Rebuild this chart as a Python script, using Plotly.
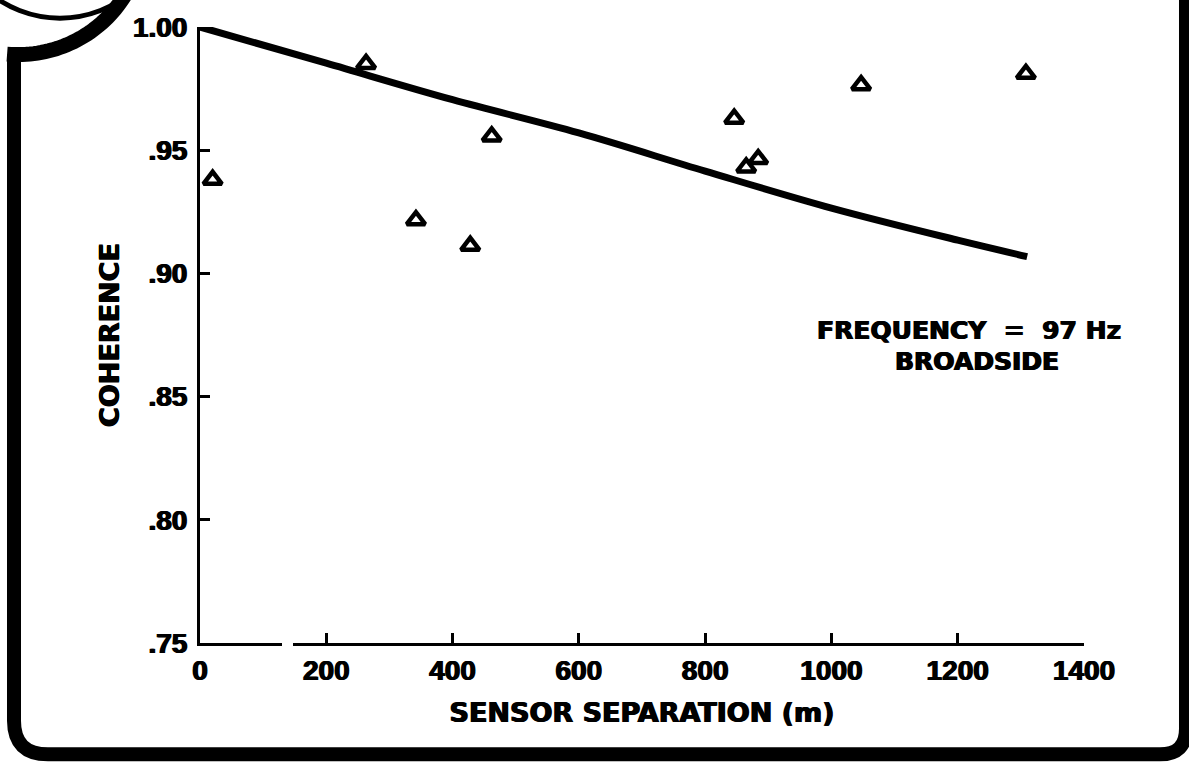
import math
import plotly.graph_objects as go

# Measured coherence at each sensor separation (triangles)
separation_m = [20, 263, 342, 428, 462, 846, 865, 884, 1047, 1308]
coherence = [0.938, 0.985, 0.9216, 0.9112, 0.9556, 0.9628, 0.943, 0.9464, 0.9764, 0.981]

# Fitted coherence curve
fit_sep_m = [0, 200, 400, 600, 800, 1000, 1200, 1310]
fit_coherence = [1.000, 0.9853, 0.9705, 0.957, 0.9415, 0.9265, 0.9135, 0.9068]

x_ticks = [0, 200, 400, 600, 800, 1000, 1200, 1400]
x_tick_text = ["0", "200", "400", "600", "800", "1000", "1200", "1400"]
y_ticks = [0.75, 0.80, 0.85, 0.90, 0.95, 1.00]
y_tick_text = [".75", ".80", ".85", ".90", ".95", "1.00"]

W, H = 1189, 764
L, R, T, B = 200, 105, 18, 121
PW, PH = W - L - R, H - T - B


def px(x, y):
    """Page pixel position -> paper coordinates."""
    return (x - L) / PW, (H - B - y) / PH


def path(segments):
    """Build an SVG path in paper units; one command letter per segment."""
    out = []
    for cmd, pts in segments:
        coords = " ".join("%.5f,%.5f" % px(*p) for p in pts)
        out.append(cmd + " " + coords)
    return " ".join(out)


def arc(cx, cy, r, a0, a1, n=40):
    """Polyline path along a circular arc (angles in degrees, y down)."""
    pts = []
    for i in range(n + 1):
        a = math.radians(a0 + (a1 - a0) * i / n)
        pts.append((cx + r * math.cos(a), cy + r * math.sin(a)))
    return path([("M", [pts[0]])] + [("L", [p]) for p in pts[1:]])


heavy = "0.7px 0px 0px black, -0.7px 0px 0px black"
tick_font = dict(family="Liberation Sans", size=28, color="black", weight="bold",
                 shadow=heavy)
title_font = dict(family="DejaVu Sans", size=27, color="black", weight="bold",
                  shadow=heavy)
note_font = dict(family="DejaVu Sans", size=25, color="black", weight="bold",
                 shadow=heavy)

fig = go.Figure()

fig.add_trace(go.Scatter(
    x=fit_sep_m, y=fit_coherence, mode="lines",
    line=dict(color="black", width=7, shape="spline", smoothing=1.0),
    showlegend=False, hoverinfo="skip",
))

fig.add_trace(go.Scatter(
    x=separation_m, y=coherence, mode="markers",
    marker=dict(symbol="triangle-up-open", size=16, color="black",
                line=dict(color="black", width=4.5)),
    showlegend=False,
))

# Rounded panel frame
frame = path([
    ("M", [(14, 46)]),
    ("L", [(14, 722)]),
    ("Q", [(14, 756), (48, 756)]),
    ("L", [(1160, 756)]),
    ("Q", [(1186, 756), (1186, 730)]),
    ("L", [(1186, -10)]),
])
shapes = [
    dict(type="path", path=frame, xref="paper", yref="paper",
         line=dict(color="black", width=14), layer="above"),
    # thick outer arc of the corner badge
    dict(type="path", path=arc(18, -79, 125, 95.0, 25.0), xref="paper", yref="paper",
         line=dict(color="black", width=15), layer="above"),
]
# thin inner ring of the badge
cx, cy, r = 60, -101, 110
x0, y0 = px(cx - r, cy + r)
x1, y1 = px(cx + r, cy - r)
shapes.append(dict(type="circle", xref="paper", yref="paper",
                   x0=x0, y0=y0, x1=x1, y1=y1,
                   line=dict(color="black", width=5), layer="above"))
# break in the x axis line
gx0, gy0 = px(282, 650)
gx1, gy1 = px(293, 636)
shapes.append(dict(type="rect", xref="paper", yref="paper",
                   x0=gx0, y0=gy0, x1=gx1, y1=gy1,
                   fillcolor="white", line=dict(width=0), layer="above"))

annotations = [
    dict(text="FREQUENCY\u00a0\u00a0=\u00a0\u00a097\u00a0Hz", x=1218, y=0.8768,
         xref="x", yref="y", showarrow=False, font=note_font,
         xanchor="center", yanchor="middle"),
    dict(text="BROADSIDE", x=1230, y=0.8644,
         xref="x", yref="y", showarrow=False, font=note_font,
         xanchor="center", yanchor="middle"),
]

fig.update_layout(
    width=W, height=H,
    margin=dict(l=L, r=R, t=T, b=B, pad=0),
    paper_bgcolor="white", plot_bgcolor="white",
    shapes=shapes, annotations=annotations,
    xaxis=dict(
        range=[0, 1400], tickvals=x_ticks, ticktext=x_tick_text,
        ticks="inside", ticklen=10, tickwidth=3, tickcolor="black",
        showline=True, linecolor="black", linewidth=3,
        showgrid=False, zeroline=False, tickfont=tick_font,
        title=dict(text="SENSOR SEPARATION (m)", font=title_font, standoff=19),
        fixedrange=True,
    ),
    yaxis=dict(
        range=[0.75, 1.0], tickvals=y_ticks, ticktext=y_tick_text,
        ticks="inside", ticklen=10, tickwidth=3, tickcolor="black",
        showline=True, linecolor="black", linewidth=3,
        showgrid=False, zeroline=False, tickfont=tick_font,
        ticklabelstandoff=4,
        title=dict(text="COHERENCE", font=title_font, standoff=6),
        fixedrange=True,
    ),
)

fig.write_html("out.html")
